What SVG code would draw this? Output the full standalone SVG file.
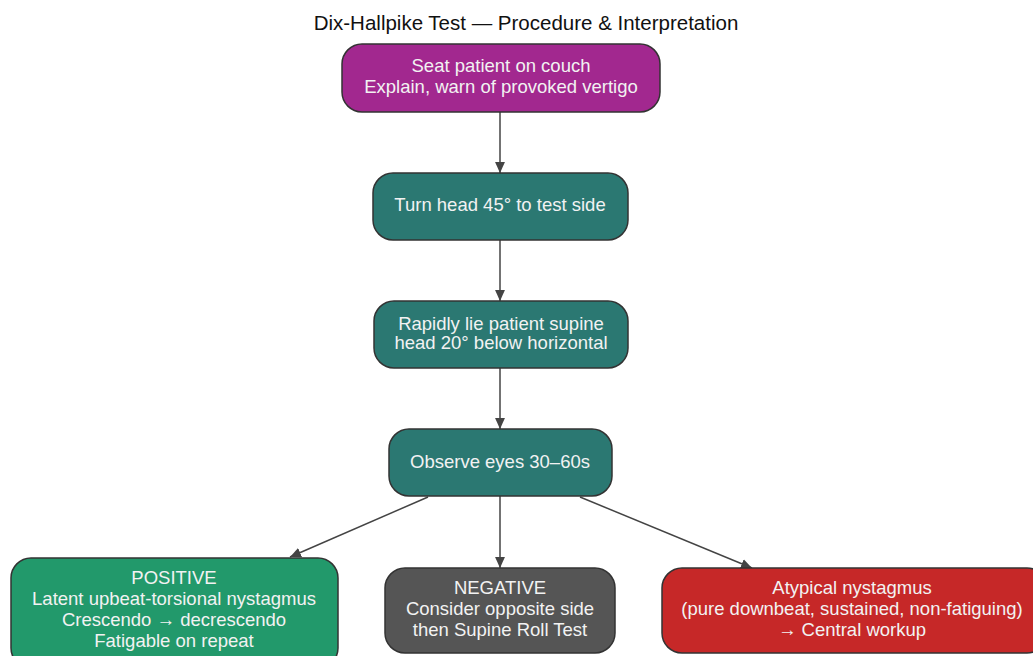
<svg xmlns="http://www.w3.org/2000/svg" width="1033" height="656" viewBox="0 0 1033 656">
<defs>
<style>
.n{stroke:#333;stroke-width:1.5}
.t{font-family:"Liberation Sans",Arial,sans-serif;font-size:18.5px;fill:#f2f2f2;text-anchor:middle}
.title{font-family:"Liberation Sans",Arial,sans-serif;font-size:20.5px;fill:#111;text-anchor:middle}
.e{stroke:#444;stroke-width:1.5;fill:none;marker-end:url(#ah)}
</style>
<marker id="ah" viewBox="0 0 10 10" refX="10" refY="5" markerWidth="11" markerHeight="11" markerUnits="userSpaceOnUse" orient="auto">
<path d="M0,0.5 L10,5 L0,9.5 Z" fill="#444"/>
</marker>
</defs>
<rect width="1033" height="656" fill="#fff"/>
<text class="title" x="526" y="30">Dix-Hallpike Test — Procedure &amp; Interpretation</text>
<g id="edges">
<path class="e" d="M500,112 L500,173"/>
<path class="e" d="M500,240 L500,301"/>
<path class="e" d="M500,368 L500,429"/>
<path class="e" d="M500,496 L500,568"/>
<path class="e" d="M428,497 L290,557"/>
<path class="e" d="M580,497 L752,568"/>
</g>
<g id="seat">
<rect class="n" x="342" y="44" width="318" height="68" rx="20" fill="#A2288F"/>
<text class="t" x="501" y="72">Seat patient on couch</text>
<text class="t" x="501" y="93">Explain, warn of provoked vertigo</text>
</g>
<g id="turn">
<rect class="n" x="373" y="173" width="255" height="67" rx="20" fill="#2B7872"/>
<text class="t" x="500" y="211">Turn head 45° to test side</text>
</g>
<g id="lie">
<rect class="n" x="374" y="301" width="254" height="67" rx="20" fill="#2B7872"/>
<text class="t" x="501" y="330">Rapidly lie patient supine</text>
<text class="t" x="501" y="349">head 20° below horizontal</text>
</g>
<g id="observe">
<rect class="n" x="389" y="429" width="223" height="67" rx="20" fill="#2B7872"/>
<text class="t" x="500" y="468">Observe eyes 30–60s</text>
</g>
<g id="positive">
<rect class="n" x="11" y="558" width="327" height="110" rx="20" fill="#22996B"/>
<text class="t" x="174" y="584">POSITIVE</text>
<text class="t" x="174" y="605">Latent upbeat-torsional nystagmus</text>
<text class="t" x="174" y="626">Crescendo → decrescendo</text>
<text class="t" x="174" y="647">Fatigable on repeat</text>
</g>
<g id="negative">
<rect class="n" x="385" y="568" width="230" height="85" rx="20" fill="#555555"/>
<text class="t" x="500" y="594">NEGATIVE</text>
<text class="t" x="500" y="615">Consider opposite side</text>
<text class="t" x="500" y="636">then Supine Roll Test</text>
</g>
<g id="atypical">
<rect class="n" x="662" y="568" width="385" height="85" rx="20" fill="#C62828"/>
<text class="t" x="852" y="594">Atypical nystagmus</text>
<text class="t" x="852" y="615">(pure downbeat, sustained, non-fatiguing)</text>
<text class="t" x="852" y="636">→ Central workup</text>
</g>
</svg>
